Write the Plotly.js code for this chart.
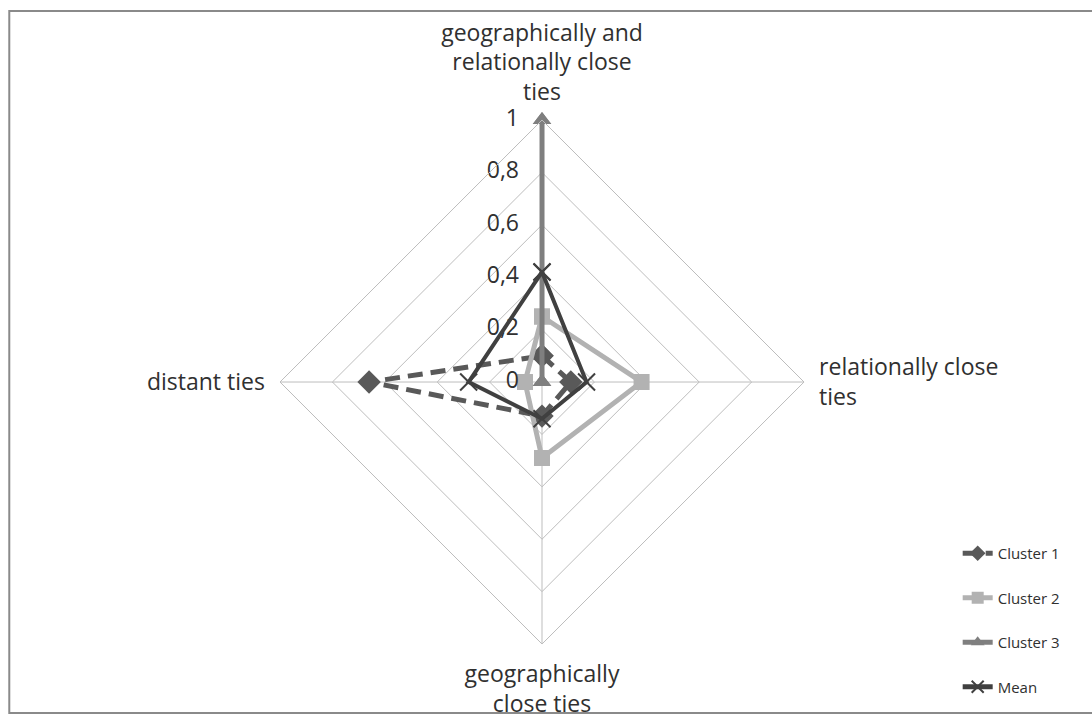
<!DOCTYPE html>
<html>
<head>
<meta charset="utf-8">
<script src="https://cdn.plot.ly/plotly-3.0.1.min.js"></script>
<style>html,body{margin:0;padding:0;background:#fff;}#chart{width:1092px;height:714px;}</style>
</head>
<body>
<div id="chart"></div>
<script>
const categories = ["geographically and<br>relationally close<br>ties", "relationally close<br>ties", "geographically<br>close ties", "distant ties"];
const cluster1 = [0.10, 0.11, 0.13, 0.66];
const cluster2 = [0.25, 0.38, 0.29, 0.065];
const cluster3 = [1, 0, 0, 0];
const meanVals = [0.42, 0.17, 0.14, 0.28];
const seriesNames = ["Cluster 1", "Cluster 2", "Cluster 3", "Mean"];
const radialRange = [0, 1];
const radialTicks = [0, 0.2, 0.4, 0.6, 0.8, 1];
const radialTickLabels = ["0", "0,2", "0,4", "0,6", "0,8", "1"];

function closed(a){ return a.concat([a[0]]); }

const styles = [
  {color:'#595959', dash:'15px,8px', width:5, symbol:'diamond', size:18},
  {color:'#b2b2b2', dash:'solid', width:5, symbol:'square', size:16},
  {color:'#7f7f7f', dash:'solid', width:5, symbol:'triangle-up', size:16},
  {color:'#404040', dash:'solid', width:4, symbol:'x-thin-open', size:17}
];
const allSeries = [cluster1, cluster2, cluster3, meanVals];
const tickFont = {size: 23, color: '#303030', family: 'Open Sans, sans-serif'};

// Points at the centre (r = range min) are drawn on an overlaid, clipped polar
// subplot ('polar2') with the same domain and scales.
const atCentre = v => v === radialRange[0];
const tickTraceOuter = {
  type: 'scatterpolar', mode: 'text', subplot: 'polar',
  r: radialTicks.filter(v => !atCentre(v)),
  theta: radialTicks.filter(v => !atCentre(v)).map(() => categories[0]),
  text: radialTickLabels.filter((t, k) => !atCentre(radialTicks[k])).map(t => t + '\u2003'),
  textposition: 'middle left', textfont: tickFont,
  showlegend: false, hoverinfo: 'skip', cliponaxis: false
};
const tickTraceCentre = {
  type: 'scatterpolar', mode: 'text', subplot: 'polar2',
  r: radialTicks.filter(atCentre),
  theta: radialTicks.filter(atCentre).map(() => categories[0]),
  text: radialTickLabels.filter((t, k) => atCentre(radialTicks[k])).map(t => t + '\u2003'),
  textposition: 'middle left', textfont: tickFont,
  showlegend: false, hoverinfo: 'skip', cliponaxis: true
};

const seriesTraces = [];
const centreTraces = [];
allSeries.forEach((vals, i) => {
  seriesTraces.push({
    type: 'scatterpolar', subplot: 'polar',
    mode: 'lines+markers',
    name: seriesNames[i],
    legendgroup: 'g' + i,
    r: closed(vals),
    theta: closed(categories),
    line: {color: styles[i].color, dash: styles[i].dash, width: styles[i].width},
    marker: {symbol: styles[i].symbol, size: styles[i].size, color: styles[i].color,
             line: {color: styles[i].color, width: i === 3 ? 2 : 0}},
    cliponaxis: false
  });
  const idx = vals.map((v, k) => k).filter(k => atCentre(vals[k]));
  if (idx.length) {
    centreTraces.push({
      type: 'scatterpolar', subplot: 'polar2',
      mode: 'markers',
      legendgroup: 'g' + i,
      showlegend: false, hoverinfo: 'skip',
      r: idx.map(k => vals[k]),
      theta: idx.map(k => categories[k]),
      marker: {symbol: styles[i].symbol, size: styles[i].size, color: styles[i].color,
               line: {color: styles[i].color, width: i === 3 ? 2 : 0}},
      cliponaxis: true
    });
  }
});

const traces = [tickTraceOuter].concat(seriesTraces, [tickTraceCentre], centreTraces);

const polarDomain = {x: [0.2564, 0.7363], y: [0.0980, 0.8319]};
const layout = {
  width: 1092, height: 714,
  margin: {l: 0, r: 0, t: 0, b: 0},
  paper_bgcolor: '#ffffff',
  separators: ', ',
  font: {family: 'Open Sans, sans-serif', color: '#404040'},
  polar: {
    domain: polarDomain,
    gridshape: 'linear',
    bgcolor: '#ffffff',
    angularaxis: {
      type: 'category',
      categoryarray: categories,
      rotation: 90,
      direction: 'clockwise',
      showline: true, linecolor: '#bdbdbd', linewidth: 1,
      gridcolor: '#bdbdbd', gridwidth: 1,
      ticks: 'outside', ticklen: 10, tickcolor: 'rgba(0,0,0,0)',
      tickfont: {size: 23, color: '#303030'}
    },
    radialaxis: {
      range: radialRange,
      tickvals: radialTicks,
      angle: 90,
      showticklabels: false,
      showline: false,
      ticks: '',
      gridcolor: '#bdbdbd', gridwidth: 1
    }
  },
  polar2: {
    domain: polarDomain,
    gridshape: 'linear',
    bgcolor: 'rgba(0,0,0,0)',
    angularaxis: {
      type: 'category',
      categoryarray: categories,
      rotation: 90,
      direction: 'clockwise',
      showline: false, showgrid: false, showticklabels: false, ticks: ''
    },
    radialaxis: {
      range: radialRange,
      angle: 90,
      showticklabels: false, showline: false, showgrid: false, ticks: ''
    }
  },
  legend: {
    x: 0.877, y: 0.248, xanchor: 'left', yanchor: 'top',
    font: {size: 15, color: '#303030'},
    tracegroupgap: 22,
    itemsizing: 'constant',
    bgcolor: 'rgba(0,0,0,0)'
  },
  shapes: [{
    type: 'rect', xref: 'paper', yref: 'paper',
    x0: 0.0085, x1: 1.01, y0: 0.0015, y1: 0.9846,
    line: {color: '#8a8a8a', width: 2}
  }]
};

Plotly.newPlot('chart', traces, layout, {displayModeBar: false});
</script>
</body>
</html>
